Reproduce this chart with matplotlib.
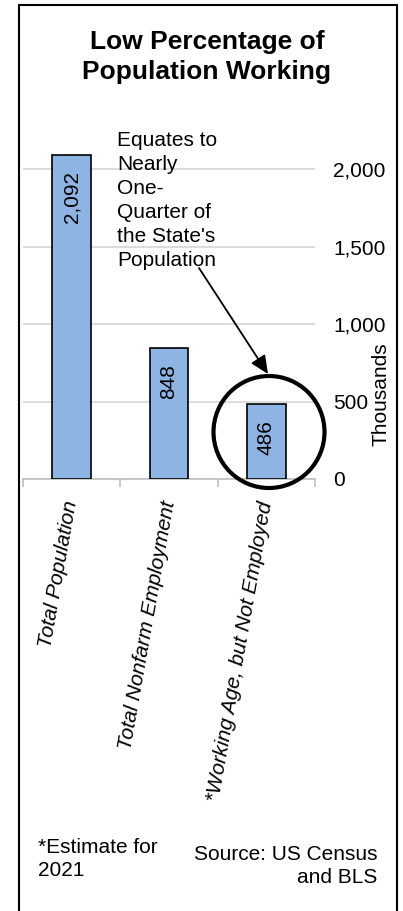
import matplotlib
matplotlib.use('Agg')
import matplotlib.pyplot as plt
from matplotlib.patches import Ellipse, Rectangle

# figures in thousands
categories = ['Total Population', 'Total Nonfarm Employment',
              '*Working Age, but Not Employed']
values = [2092, 848, 486]
y_ticks = [0, 500, 1000, 1500, 2000]
y_tick_labels = ['{:,}'.format(v) for v in y_ticks]

title = 'Low Percentage of\nPopulation Working'
callout = "Equates to\nNearly\nOne-\nQuarter of\nthe State's\nPopulation"
note = '*Estimate for\n2021'
source = 'Source: US Census\nand BLS'

plt.rcParams['font.family'] = ['Liberation Sans', 'DejaVu Sans']

W, H = 403, 911
fig = plt.figure(figsize=(W / 100, H / 100), dpi=100)


# pixel -> figure fraction (y counted from the top)
def fx(px):
    return px / W


def fy(py):
    return 1 - py / H


# plot area
left, right, bottom = 23, 315, 479
ymax = 2200
px_per_unit = 77.5 / 500
top = bottom - ymax * px_per_unit
ax = fig.add_axes([fx(left), fy(bottom), fx(right - left), (bottom - top) / H])

x = list(range(len(categories)))
ax.bar(x, values, width=0.4, color='#8EB4E3', edgecolor='black',
       linewidth=1.2, zorder=3)
ax.set_xlim(-0.5, len(categories) - 0.5)
ax.set_ylim(0, ymax)

for i, v in zip(x, values):
    ax.annotate('{:,}'.format(v), (i, v), xytext=(0, -12),
                textcoords='offset points', rotation=90,
                ha='center', va='top', fontsize=15, zorder=4)

ax.yaxis.grid(True, color='#D9D9D9', linewidth=1.3)
ax.set_axisbelow(True)
for s in ['top', 'left', 'right']:
    ax.spines[s].set_visible(False)
ax.spines['bottom'].set_color('#BFBFBF')
ax.spines['bottom'].set_linewidth(1.2)

ax.yaxis.tick_right()
ax.set_yticks(y_ticks, y_tick_labels)
ax.tick_params(axis='y', length=0, pad=13, labelsize=15)

ax.set_xticks(x, categories)
ax.set_xticks([i - 0.5 for i in range(len(categories) + 1)], minor=True)
ax.tick_params(axis='x', which='major', length=0, pad=16, labelsize=15)
ax.tick_params(axis='x', which='minor', length=6, width=1.2, color='#BFBFBF')
for lbl in ax.get_xticklabels():
    lbl.set(rotation=80, ha='right', va='center', rotation_mode='anchor',
            fontstyle='italic')

fig.text(fx(381), fy(394), 'Thousands', rotation=90, ha='center',
         va='center', fontsize=15)

# title and notes
fig.text(fx(207), fy(30), title, ha='center', va='top', fontsize=19,
         fontweight='bold', linespacing=1.3)
fig.text(fx(117), fy(131.5), callout, ha='left', va='top', fontsize=15,
         linespacing=1.33)
fig.text(fx(38), fy(838), note, ha='left', va='top', fontsize=15,
         linespacing=1.25)
fig.text(fx(377), fy(845), source, ha='right', va='top', fontsize=15,
         multialignment='right', linespacing=1.25)

# arrow and circle around the last bar
fig.add_artist(plt.matplotlib.patches.FancyArrowPatch(
    (fx(199), fy(268)), (fx(268), fy(374)), transform=fig.transFigure,
    arrowstyle='-|>,head_length=0.55,head_width=0.25', mutation_scale=20,
    color='black', linewidth=1.3, shrinkA=0, shrinkB=0))
fig.add_artist(Ellipse((fx(269), fy(432)), fx(111), 112 / H,
                       transform=fig.transFigure, fill=False,
                       edgecolor='black', linewidth=3))

# outer frame
fig.add_artist(Rectangle((fx(19), fy(920)), fx(378), 915 / H,
                         transform=fig.transFigure, fill=False,
                         edgecolor='black', linewidth=1.5))

fig.savefig('out.png', dpi=100)
